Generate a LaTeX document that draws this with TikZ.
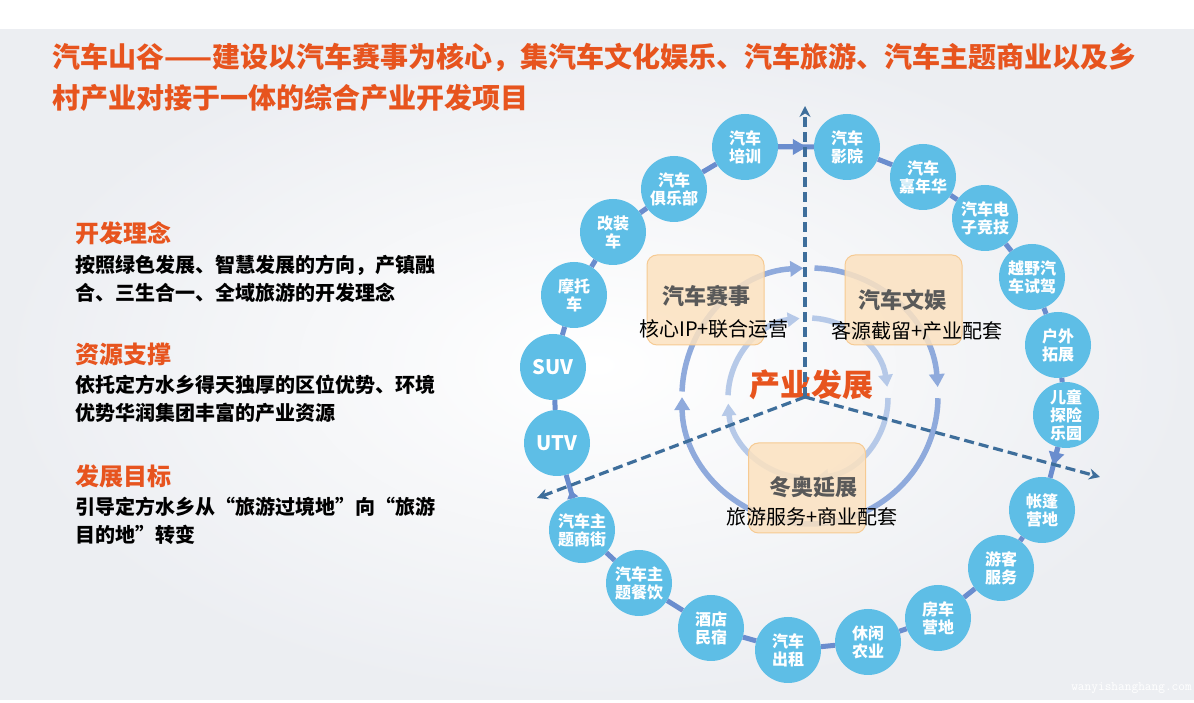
\documentclass[tikz,border=0pt]{standalone}
\usepackage{fontspec}
\setmainfont{Noto Sans CJK SC}
\usetikzlibrary{arrows.meta, positioning}

\definecolor{circblue}{RGB}{94,190,230}
\definecolor{chainblue}{RGB}{106,141,206}
\definecolor{ringouter}{RGB}{143,170,220}
\definecolor{ringinner}{RGB}{182,201,232}
\definecolor{dashblue}{RGB}{62,110,155}
\definecolor{boxfill}{RGB}{252,226,192}
\definecolor{boxline}{RGB}{246,202,146}
\definecolor{hotorange}{RGB}{231,84,30}
\definecolor{darkgray}{RGB}{89,89,89}
\definecolor{bggray}{RGB}{236,238,242}

\begin{document}
\begin{tikzpicture}[x=1pt, y=1pt,
  spot/.style={circle, fill=circblue, text=white, minimum size=66pt, inner sep=0pt, align=center, font=\bfseries\fontsize{16}{18}\selectfont},
  chainline/.style={draw=chainblue, line width=5pt},
  outerring/.style={draw=ringouter, line width=5.5pt, -{Triangle[length=13pt,width=15pt]}},
  innerring/.style={draw=ringinner, line width=5.5pt, -{Triangle[length=12pt,width=14pt]}},
  spoke/.style={draw=dashblue, line width=3.2pt, dash pattern=on 10pt off 5pt, -{Stealth[length=11pt,width=11pt]}},
  cardbox/.style={draw=boxline, fill=boxfill, fill opacity=0.85, line width=1pt, rounded corners=10pt, minimum width=117pt, minimum height=90pt},
  cardtitle/.style={text=darkgray, font=\bfseries\fontsize{22}{24}\selectfont, inner sep=0pt},
  cardsub/.style={text=black, font=\fontsize{20}{22}\selectfont, inner sep=0pt},
  head/.style={text=hotorange, font=\bfseries\fontsize{24}{28}\selectfont, inner sep=0pt, anchor=west},
  body/.style={text=black, font=\bfseries\fontsize{20}{28}\selectfont, inner sep=0pt, anchor=west, align=left}]
  \useasboundingbox (0,0) rectangle (1194,703);
  \fill[white] (0,0) rectangle (1194,703);
  \shade[inner color=white, outer color=bggray] (0,3) rectangle (1194,673);

  % title and the three notes on the left
  \node (title) [anchor=west, align=left, inner sep=0pt, text=hotorange, font=\bfseries\fontsize{28}{41}\selectfont] at (52,625.5)
    {汽车山谷——建设以汽车赛事为核心，集汽车文化娱乐、汽车旅游、汽车主题商业以及乡\\村产业对接于一体的综合产业开发项目};
  \node (idea) [head] at (75,470) {开发理念};
  \node (ideatext) [body] at (75,424) {按照绿色发展、智慧发展的方向，产镇融\\合、三生合一、全域旅游的开发理念};
  \node (source) [head] at (75,349) {资源支撑};
  \node (sourcetext) [body] at (75,304) {依托定方水乡得天独厚的区位优势、环境\\优势华润集团丰富的产业资源};
  \node (goal) [head] at (75,227) {发展目标};
  \node (goaltext) [body] at (75,182.5) {引导定方水乡从“旅游过境地”向“旅游\\目的地”转变};

  % two rings round the centre
  \coordinate (outerc) at (810,307);
  \coordinate (innerc) at (808,305);
  \draw[outerring] (outerc) ++(178:128) arc[start angle=178, end angle=93, radius=128];
  \draw[outerring] (outerc) ++(88:128) arc[start angle=88, end angle=4, radius=128];
  \draw[outerring] (outerc) ++(-1:128) arc[start angle=-1, end angle=-179.5, radius=128];
  \draw[innerring] (innerc) ++(178:80) arc[start angle=178, end angle=96, radius=80];
  \draw[innerring] (innerc) ++(87:80) arc[start angle=87, end angle=8, radius=80];
  \draw[innerring] (innerc) ++(0:80) arc[start angle=0, end angle=-84, radius=80];
  \draw[innerring] (innerc) ++(-93:80) arc[start angle=-93, end angle=-176, radius=80];

  \node (racebox) [cardbox] at (705.5,403) {};
  \node (funbox) [cardbox] at (903.5,403) {};
  \node (winterbox) [cardbox] at (807,215) {};
  \node (racetitle) [cardtitle] at (706,407) {汽车赛事};
  \node (racesub) [cardsub] at (714,374) {核心IP+联合运营};
  \node (funtitle) [cardtitle] at (902,403) {汽车文娱};
  \node (funsub) [cardsub] at (917,372) {客源截留+产业配套};
  \node (wintertitle) [cardtitle] at (813,216) {冬奥延展};
  \node (wintersub) [cardsub] at (812,186) {旅游服务+商业配套};
  \node (core) [text=hotorange, inner sep=0pt, font=\bfseries\fontsize{31}{34}\selectfont] at (811,318) {产业发展};

  % outer chain of projects
  \node (training) [spot] at (745,556) {汽车\\培训};
  \node (club) [spot] at (674,514) {汽车\\俱乐部};
  \node (tuning) [spot] at (613,471) {改装\\车};
  \node (moto) [spot] at (574,408) {摩托\\车};
  \node (suv) [spot, font=\bfseries\fontsize{20}{22}\selectfont] at (553,336) {SUV};
  \node (utv) [spot, font=\bfseries\fontsize{20}{22}\selectfont] at (557,260) {UTV};
  \node (street) [spot] at (582,173) {汽车主\\题商街};
  \node (dining) [spot] at (639,120) {汽车主\\题餐饮};
  \node (hotel) [spot] at (711,75) {酒店\\民宿};
  \node (rental) [spot] at (788,53) {汽车\\出租};
  \node (farm) [spot] at (868,61) {休闲\\农业};
  \node (rv) [spot] at (938,85) {房车\\营地};
  \node (service) [spot] at (1001,135) {游客\\服务};
  \node (tent) [spot] at (1042,193) {帐篷\\营地};
  \node (kids) [spot] at (1066,288) {儿童\\探险\\乐园};
  \node (outdoor) [spot] at (1058,358) {户外\\拓展};
  \node (offroad) [spot] at (1032,426) {越野汽\\车试驾};
  \node (esports) [spot] at (985,485) {汽车电\\子竞技};
  \node (carnival) [spot] at (923,526) {汽车\\嘉年华};
  \node (cinema) [spot] at (847,556) {汽车\\影院};

  \draw[chainline] (utv) -- (suv) -- (moto) -- (tuning) -- (club) -- (training) -- (cinema) -- (carnival) -- (esports) -- (offroad) -- (outdoor) -- (kids) -- (tent) -- (service) -- (rv) -- (farm) -- (rental) -- (hotel) -- (dining) -- (street) -- (utv);
  \draw[chainline, -{Triangle[length=14pt,width=15pt]}, shorten >=7pt] (training) -- (cinema);
  \draw[chainline, -{Triangle[length=13pt,width=15pt]}, shorten >=13pt] (kids) -- (tent);
  \draw[chainline, -{Triangle[length=8pt,width=11pt]}, shorten >=16pt] (street) -- (utv);

  % dashed spokes
  \coordinate (hub) at (805,306);
  \coordinate (northtip) at (805,597);
  \coordinate (westtip) at (537,205);
  \coordinate (easttip) at (1100,226);
  \draw[spoke] (hub) -- (northtip);
  \draw[spoke] (hub) -- (westtip);
  \draw[spoke] (hub) -- (easttip);

  \node (mark) [anchor=east, text=white, inner sep=0pt, font=\ttfamily\fontsize{13}{13}\selectfont] at (1192,15) {wanyishanghang.com};
\end{tikzpicture}
\end{document}
